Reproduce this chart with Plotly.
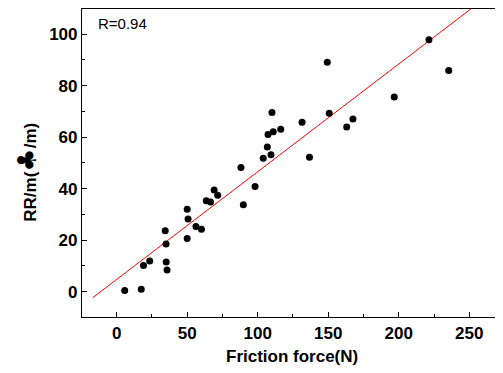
import plotly.graph_objects as go

# Data
friction_force = [5.7, 17.4, 19.0, 23.4, 34.4, 35.0, 35.1, 35.7, 50.0, 50.6, 50.0,
                  56.2, 60.1, 63.5, 66.5, 69.1, 71.6, 88.1, 89.8, 98.1, 103.9,
                  106.8, 109.4, 107.3, 111.0, 110.1, 116.3, 131.4, 136.7, 149.3,
                  150.7, 163.1, 167.5, 196.8, 221.4, 235.4]
rr_per_m = [0.5, 1.0, 10.2, 11.9, 23.7, 18.5, 11.5, 8.4, 32.0, 28.2, 20.7,
            25.3, 24.3, 35.3, 34.8, 39.5, 37.5, 48.2, 33.8, 40.9, 51.8,
            56.2, 53.2, 61.1, 62.1, 69.6, 63.1, 65.8, 52.2, 89.1,
            69.3, 64.0, 67.1, 75.6, 97.9, 85.9]

# Linear fit line end points
fit_x = [-17.0, 252.0]
fit_y = [-2.33, 110.2]

x_ticks = [0, 50, 100, 150, 200, 250]
y_ticks = [0, 20, 40, 60, 80, 100]

FONT = "Liberation Sans, Arial, sans-serif"

fig = go.Figure()
fig.add_trace(go.Scatter(x=fit_x, y=fit_y, mode="lines",
                         line=dict(color="#ff0000", width=1), showlegend=False,
                         hoverinfo="skip"))
fig.add_trace(go.Scatter(x=friction_force, y=rr_per_m, mode="markers",
                         marker=dict(color="black", size=7), showlegend=False))

fig.update_layout(
    width=495, height=365,
    margin=dict(l=74, r=1, t=1, b=56),
    paper_bgcolor="white", plot_bgcolor="white",
    font=dict(family=FONT, color="black"),
    xaxis=dict(range=[-24.6, 273.2], tickvals=x_ticks, ticks="inside", ticklen=5,
               tickwidth=1, tickcolor="black",
               minor=dict(dtick=25, tick0=0, ticks="inside", ticklen=3, tickcolor="black"),
               showline=True, linecolor="black", linewidth=1.2, mirror=True,
               showgrid=False, zeroline=False,
               tickfont=dict(size=17, family=FONT, weight="bold")),
    yaxis=dict(range=[-9.82, 109.8], tickvals=y_ticks, ticks="inside", ticklen=5,
               tickwidth=1, tickcolor="black",
               minor=dict(dtick=10, tick0=0, ticks="inside", ticklen=3, tickcolor="black"),
               showline=True, linecolor="black", linewidth=1.2, mirror=False,
               showgrid=False, zeroline=False,
               tickfont=dict(size=17, family=FONT, weight="bold")),
    annotations=[
        dict(text="Friction force(N)", xref="paper", yref="paper", x=0.5, y=-0.129,
             xanchor="center", yanchor="middle", showarrow=False,
             font=dict(size=17, family=FONT, weight="bold")),
        dict(text="RR/m(<span style=\"font-size:26px;font-family:'DejaVu Sans'\">\u2663</span>/m)",
             xref="paper", yref="paper", x=-0.133, y=0.469,
             xanchor="center", yanchor="middle", textangle=-90, showarrow=False,
             font=dict(size=17, family=FONT, weight="bold")),
        dict(text="R=0.94", xref="paper", yref="paper", x=0.033, y=0.953,
             xanchor="left", yanchor="middle", showarrow=False,
             font=dict(size=15, family=FONT)),
    ],
)

fig.write_html("out.html")
